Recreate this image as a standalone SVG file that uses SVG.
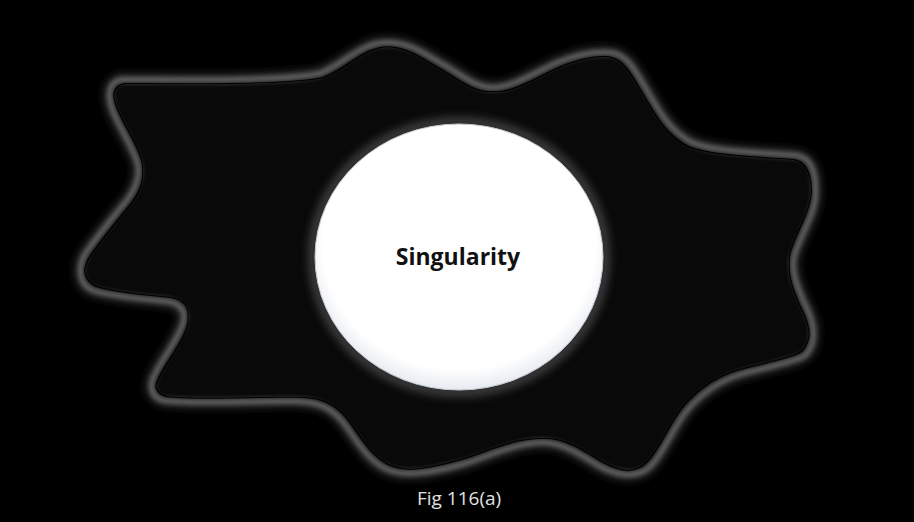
<svg xmlns="http://www.w3.org/2000/svg" width="914" height="522" viewBox="0 0 914 522">
  <defs>
    <filter id="glow" x="-10%" y="-10%" width="120%" height="120%">
      <feGaussianBlur stdDeviation="2.2"/>
    </filter>
    <filter id="glowWide" x="-10%" y="-10%" width="120%" height="120%">
      <feGaussianBlur stdDeviation="4.5"/>
    </filter>
    <filter id="halo" x="-20%" y="-20%" width="140%" height="140%">
      <feGaussianBlur stdDeviation="4"/>
    </filter>
    <filter id="innerLine" x="-5%" y="-5%" width="110%" height="110%">
      <feMorphology in="SourceAlpha" operator="erode" radius="3" result="e3"/>
      <feMorphology in="SourceAlpha" operator="erode" radius="4.3" result="e4"/>
      <feComposite in="e3" in2="e4" operator="out" result="ring"/>
      <feGaussianBlur in="ring" stdDeviation="0.4" result="ringb"/>
      <feFlood flood-color="#000000"/>
      <feComposite in2="ringb" operator="in"/>
    </filter>
    <radialGradient id="disc" cx="0.5" cy="0.45" r="0.55">
      <stop offset="0.86" stop-color="#ffffff"/>
      <stop offset="1" stop-color="#e6eaf0"/>
    </radialGradient>
    <path id="blobPath" d="M 122 80 C 180 80, 280 82, 320 74 C 345 64, 360 44, 385 43 C 410 42, 425 55, 445 66 C 465 78, 478 89, 495 88 C 515 87, 540 70, 560 62 C 578 55, 595 52, 610 53 C 628 55, 635 72, 645 88 C 658 110, 668 130, 690 142 C 710 152, 760 153, 797 156 C 810 158, 816 172, 815 195 C 814 215, 800 235, 794 255 C 789 272, 800 295, 808 312 C 815 328, 815 345, 805 355 C 795 362, 760 368, 740 374 C 715 382, 698 396, 685 412 C 670 432, 660 460, 645 470 C 630 478, 615 474, 600 466 C 585 457, 565 443, 545 442 C 520 441, 490 455, 465 463 C 440 470, 410 477, 390 470 C 372 464, 360 445, 348 428 C 336 410, 322 402, 300 401 C 270 400, 190 404, 163 400 C 150 396, 150 385, 155 375 C 162 360, 177 342, 183 325 C 188 310, 180 303, 168 301 C 150 299, 110 296, 93 290 C 78 284, 78 265, 87 252 C 98 236, 110 222, 122 207 C 135 192, 142 178, 138 163 C 133 146, 120 128, 113 110 C 108 96, 108 82, 122 80 Z"/>
  </defs>
  <style>
    .bg { fill: #000000; }
    .blob-fill { fill: #090909; }
    .blob-glow-wide { fill: none; stroke: #2e2e2e; stroke-width: 12; }
    .blob-glow { fill: none; stroke: #5e5e5e; stroke-width: 6; }
    .disc-halo { fill: none; stroke: #3e3e3e; stroke-width: 10; }
    .disc { fill: url(#disc); stroke: #c4c9d2; stroke-width: 1; }
    .label { font-family: "Open Sans", "Liberation Sans", sans-serif; font-weight: 700; font-size: 23px; fill: #111111; text-anchor: middle; }
    .caption { font-family: "Open Sans", "Liberation Sans", sans-serif; font-size: 19px; fill: #e2e2e2; }
  </style>

  <rect class="bg" x="0" y="0" width="914" height="522"/>

  <g id="blob">
    <use href="#blobPath" class="blob-glow-wide" filter="url(#glowWide)"/>
    <use href="#blobPath" class="blob-fill"/>
    <use href="#blobPath" class="blob-glow" filter="url(#glow)"/>
    <use href="#blobPath" fill="#090909" filter="url(#innerLine)"/>
  </g>

  <g id="singularity">
    <ellipse class="disc-halo" cx="459" cy="257" rx="146" ry="135" filter="url(#halo)"/>
    <ellipse class="disc" cx="459" cy="257" rx="144" ry="133"/>
    <text class="label" x="458" y="265">Singularity</text>
  </g>

  <g id="caption">
    <text class="caption" x="417" y="505">Fig 116(a)</text>
  </g>

  <g id="connectors"/>
</svg>
